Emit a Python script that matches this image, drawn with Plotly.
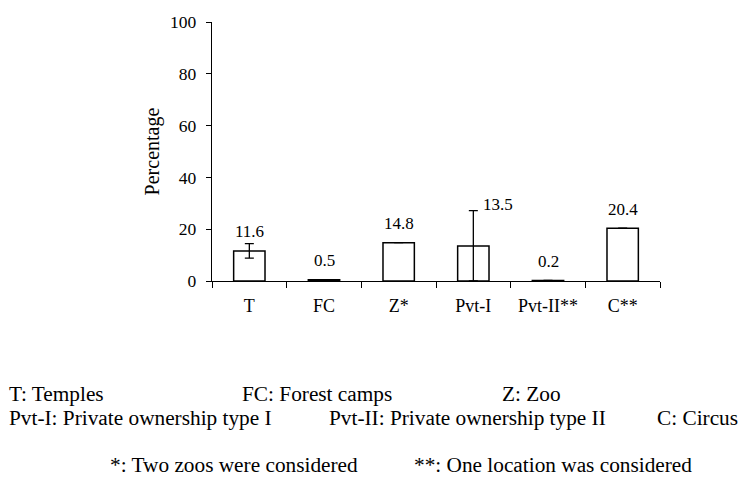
import plotly.graph_objects as go

categories = ["T", "FC", "Z*", "Pvt-I", "Pvt-II**", "C**"]
values = [11.6, 0.5, 14.8, 13.5, 0.2, 20.4]
err_plus = [2.8, 0, 0, 13.7, 0, 0]
err_minus = [2.8, 0, 0, 13.5, 0, 0]
value_labels = ["11.6", "0.5", "14.8", "13.5", "0.2", "20.4"]
y_ticks = [0, 20, 40, 60, 80, 100]

footnote_texts = [
    "T: Temples", "FC: Forest camps", "Z: Zoo",
    "Pvt-I: Private ownership type I", "Pvt-II: Private ownership type II", "C: Circus",
    "*: Two zoos were considered", "**: One location was considered",
]
footnote_x_px = [7, 240, 500, 7, 327, 655, 108, 412]
footnote_y_px = [397, 397, 397, 422, 422, 422, 470, 470]

FONT = "Liberation Serif"
L, R, T, B = 212, 81, 15, 201
W, H = 741, 482
pw, ph = W - L - R, H - T - B

fig = go.Figure()
fig.add_trace(go.Bar(
    x=categories, y=values,
    marker=dict(color="white", line=dict(color="black", width=1.5)),
    error_y=dict(type="data", symmetric=False, array=err_plus, arrayminus=err_minus,
                 color="black", thickness=1.3, width=4.5, visible=True),
    width=0.42,
    showlegend=False,
))

annotations = []
for i, (c, v, lab) in enumerate(zip(categories, values, value_labels)):
    if err_plus[i] > 5:
        annotations.append(dict(x=c, y=v + err_plus[i], xref="x", yref="y", text=lab,
                                showarrow=False, xanchor="left", yanchor="middle",
                                xshift=8, yshift=6, font=dict(size=17, family=FONT, color="black")))
    else:
        annotations.append(dict(x=c, y=v, xref="x", yref="y", text=lab,
                                showarrow=False, xanchor="center", yanchor="middle",
                                yshift=19, font=dict(size=17, family=FONT, color="black")))

for txt, px, py in zip(footnote_texts, footnote_x_px, footnote_y_px):
    annotations.append(dict(x=(px - L) / pw, y=(H - B - py) / ph, xref="paper", yref="paper",
                            text=txt, showarrow=False, xanchor="left", yanchor="middle",
                            font=dict(size=21.3, family=FONT, color="black")))

fig.update_layout(
    width=W, height=H,
    margin=dict(l=L, r=R, t=T, b=B, pad=0),
    plot_bgcolor="white", paper_bgcolor="white",
    font=dict(family=FONT, size=17, color="black"),
    annotations=annotations,
    xaxis=dict(type="category", showline=True, linecolor="black", linewidth=1.3,
               ticks="outside", tickson="boundaries", ticklen=6, tickcolor="black", tickwidth=1.3,
               ticklabelstandoff=8,
               showgrid=False, zeroline=False, tickfont=dict(size=18, family=FONT, color="black"),
               range=[-0.5, 5.5]),
    yaxis=dict(range=[0, 100], tickvals=y_ticks, showline=True, linecolor="black", linewidth=1.3,
               ticks="outside", ticklen=5, tickcolor="black", tickwidth=1.3,
               ticklabelstandoff=6,
               showgrid=False, zeroline=False, tickfont=dict(size=17.5, family=FONT, color="black"),
               title=dict(text="Percentage", font=dict(size=20, family=FONT, color="black"), standoff=5)),
)

fig.write_html("out.html", config={"displayModeBar": False},
               post_script="document.body.style.margin='0';document.body.style.overflow='hidden';")
